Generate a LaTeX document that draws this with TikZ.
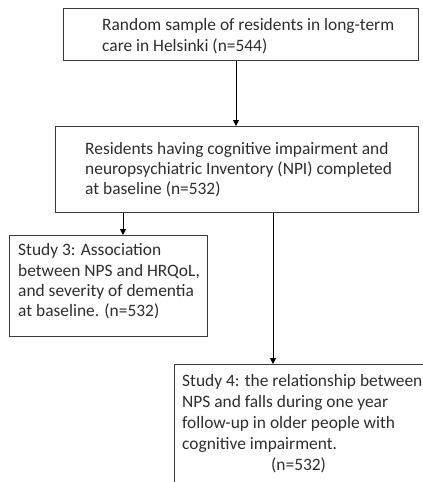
\documentclass[tikz,border=0pt]{standalone}
\usepackage{fontspec}
\setmainfont{Carlito}
\usetikzlibrary{arrows.meta}
\definecolor{linec}{HTML}{3A3A3A}
\definecolor{textc}{HTML}{2E2E2E}
\tikzset{
  box/.style={draw=linec, line width=1pt, fill=white, inner sep=0pt, anchor=north west},
  txt/.style={anchor=north west, inner sep=0pt, align=left, text=textc,
    font=\fontsize{17.4}{20.5}\selectfont},
  arr/.style={draw=black, line width=0.9pt, -{Triangle[width=6pt,length=6pt]}}
}
\begin{document}
\begin{tikzpicture}[x=1pt,y=-1pt]
\clip (0,0) rectangle (423,482);
\fill[white] (0,0) rectangle (423,482);
% boxes
\node[box, minimum width=355pt, minimum height=52pt] (b1) at (63,8) {};
\node[box, minimum width=363pt, minimum height=86pt] (b2) at (55,126) {};
\node[box, minimum width=198pt, minimum height=101pt] (b3) at (9,235) {};
\node[box, minimum width=260pt, minimum height=140pt] (b4) at (174,364) {};
% texts
\node[txt] (t1) at (102,18.7) {Random sample of residents in long-term\\care in Helsinki (n=544)};
\node[txt, font=\fontsize{17.4}{19.7}\selectfont] (t2) at (85,142.7) {Residents having cognitive impairment and\\neuropsychiatric Inventory (NPI) completed\\at baseline (n=532)};
\node[txt, font=\fontsize{17.4}{20.3}\selectfont] (t3) at (18,243.7) {Study 3: Association\\between NPS and HRQoL,\\and severity of dementia\\at baseline. (n=532)};
\node[txt, font=\fontsize{17.4}{21}\selectfont] (t4) at (182,374.7) {Study 4: the relationship between\\NPS and falls during one year\\follow-up in older people with\\cognitive impairment.\\\hspace*{89pt}(n=532)};
% connectors
\draw[arr] (b1.south -| 236,0) -- (b2.north -| 236,0);
\draw[arr] (b2.south -| 123,0) -- (b3.north -| 123,0);
\draw[arr] (b2.south -| 273,0) -- (b4.north -| 273,0);
\end{tikzpicture}
\end{document}
